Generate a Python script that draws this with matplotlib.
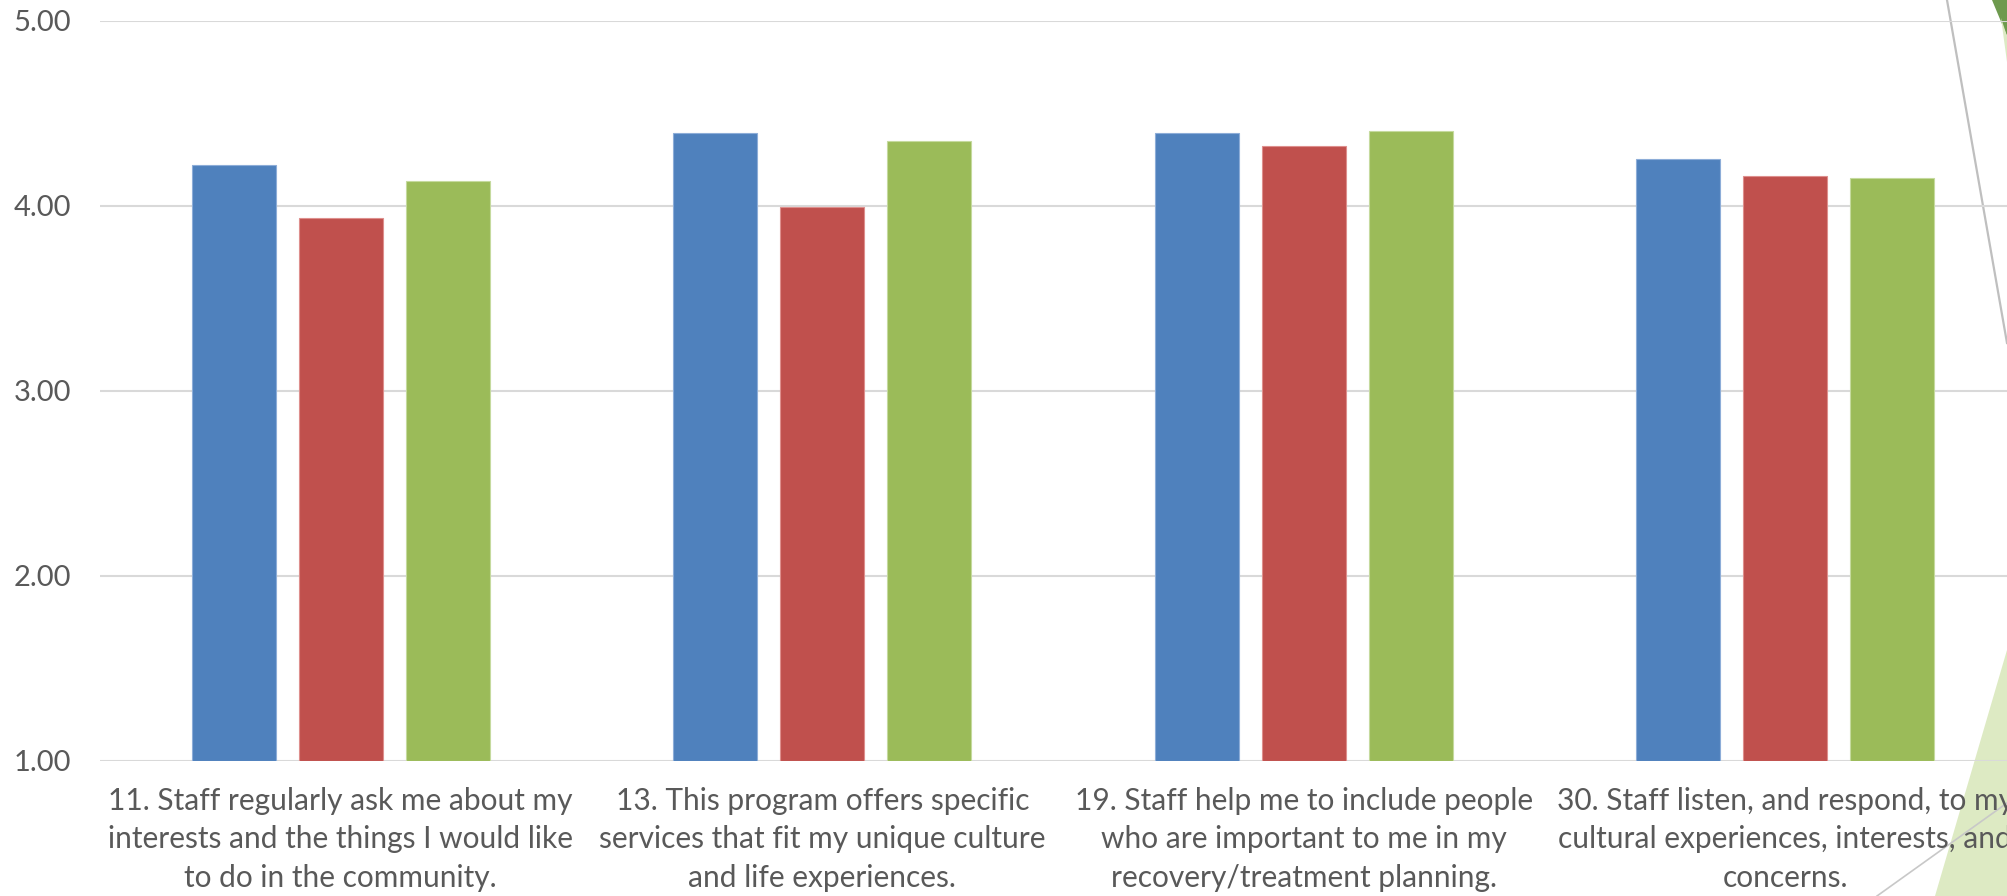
import matplotlib.pyplot as plt
import numpy as np
from matplotlib.patches import Polygon
from matplotlib.lines import Line2D

plt.rcParams['font.family'] = ['Lato', 'DejaVu Sans']

# ============================================
# 数据
# ============================================
questions = [
    "11. Staff regularly ask me about my\ninterests and the things I would like\nto do in the community.",
    "13. This program offers specific\nservices that fit my unique culture\nand life experiences.",
    "19. Staff help me to include people\nwho are important to me in my\nrecovery/treatment planning.",
    "30. Staff listen, and respond, to my\ncultural experiences, interests, and\nconcerns.",
]
series_blue = [4.22, 4.39, 4.39, 4.25]
series_red = [3.93, 3.99, 4.32, 4.16]
series_green = [4.13, 4.35, 4.40, 4.15]
y_ticks = [1.00, 2.00, 3.00, 4.00, 5.00]

colors = ['#4F81BD', '#C0504D', '#9BBB59']
edges = ['#8DADD8', '#DE8F8D', '#C5DA9E']
text_gray = '#595959'

W, H = 2007, 896
fig = plt.figure(figsize=(W / 100, H / 100), dpi=100)
fig.patch.set_facecolor('white')


def fx(px):
    return px / W


def fy(py):
    return 1 - py / H


# 背景装饰（右侧绿色三角和细线）
deco = [
    Polygon([(fx(1992), fy(0)), (fx(2007), fy(0)), (fx(2007), fy(36))],
            closed=True, facecolor='#6E9A4E', edgecolor='none'),
    Polygon([(fx(2001), fy(18)), (fx(2007), fy(36)), (fx(2007), fy(62))],
            closed=True, facecolor='#DCEAC4', edgecolor='none'),
    Polygon([(fx(2007), fy(650)), (fx(1935), fy(896)), (fx(2007), fy(896))],
            closed=True, facecolor='#DDEAC3', edgecolor='none'),
]
for p in deco:
    p.set_transform(fig.transFigure)
    p.set_zorder(-2)
    fig.patches.append(p)

fig.lines.append(Line2D([fx(1947), fx(2007)], [fy(0), fy(343)],
                        transform=fig.transFigure, color='#BFBFBF',
                        linewidth=1.6, zorder=-1))
fig.lines.append(Line2D([fx(1877), fx(2007)], [fy(896), fy(803)],
                        transform=fig.transFigure, color='#C8C8C8',
                        linewidth=1.2, zorder=-1))

# 绘图区：右侧超出画布
left_px, right_px = 100, 2026
top_px, bottom_px = 20.5, 760.5
ax = fig.add_axes([fx(left_px), fy(bottom_px),
                   (right_px - left_px) / W, (bottom_px - top_px) / H])
ax.set_facecolor('none')

x = np.arange(len(questions))
bar_w = 0.175
offset = 0.222
for i, vals in enumerate([series_blue, series_red, series_green]):
    ax.bar(x + (i - 1) * offset, np.array(vals) - 1, bottom=1, width=bar_w,
           color=colors[i], edgecolor=edges[i], linewidth=0.8, zorder=3)

ax.set_xlim(-0.5, len(questions) - 0.5)
ax.set_ylim(1, 5)
ax.set_yticks(y_ticks)
ax.set_yticklabels([f'{v:.2f}' for v in y_ticks])
ax.yaxis.grid(True, color='#D9D9D9', linewidth=1.5, zorder=0)
ax.set_axisbelow(True)
for s in ax.spines.values():
    s.set_visible(False)
ax.tick_params(axis='y', length=0, pad=21, labelsize=21, labelcolor=text_gray)
ax.tick_params(axis='x', length=0, pad=19, labelsize=21.5, labelcolor=text_gray)
ax.set_xticks(x)
ax.set_xticklabels(questions, linespacing=1.46)

plt.savefig('out.png', dpi=100)
